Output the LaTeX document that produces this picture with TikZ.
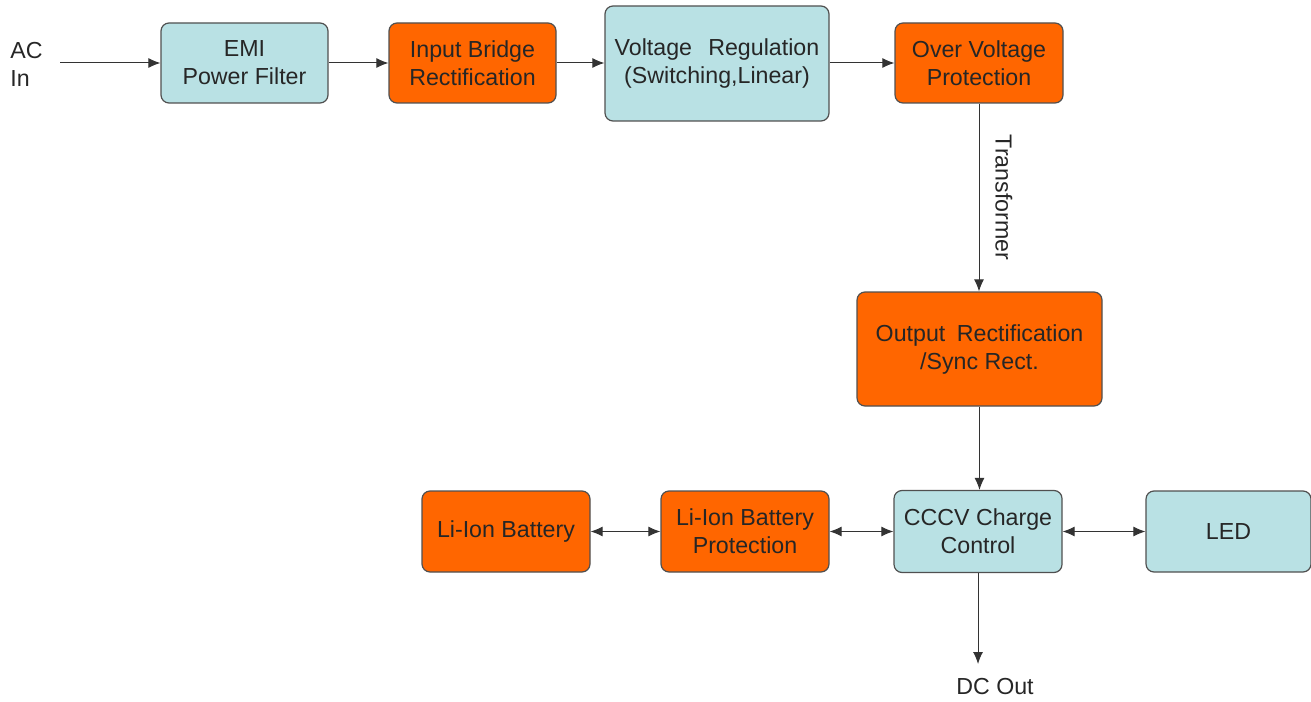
\documentclass[tikz,border=0pt]{standalone}
\usepackage{fontspec}
\setmainfont{Liberation Sans}
\usetikzlibrary{arrows.meta}
\definecolor{lblue}{HTML}{B9E1E4}
\definecolor{orng}{HTML}{FF6600}
\definecolor{edge}{HTML}{505050}
\begin{document}
\begin{tikzpicture}[x=0.5pt,y=-0.5pt,
  box/.style={draw=edge,line width=0.6pt,rounded corners=4pt,align=center,inner sep=0pt,
    font=\fontsize{11.6}{14}\selectfont,text=black!85},
  bluebox/.style={box,fill=lblue},
  orbox/.style={box,fill=orng},
  conn/.style={draw=black!80,line width=0.5pt,-{Latex[length=6pt,width=5pt]}},
  biconn/.style={draw=black!80,line width=0.5pt,{Latex[length=6pt,width=5pt]}-{Latex[length=6pt,width=5pt]}},
  lbl/.style={font=\fontsize{11.6}{14}\selectfont,text=black!85,inner sep=0pt}]
\useasboundingbox (0,0) rectangle (1311,701);
\node[bluebox,minimum width=83.5pt,minimum height=40pt] (emi) at (244.5,63) {EMI\\Power Filter};
\node[orbox,minimum width=83.5pt,minimum height=40pt] (ibr) at (472.5,63) {Input Bridge\\Rectification};
\node[bluebox,minimum width=112pt,minimum height=57.5pt] (vreg) at (717,63.5) {Voltage\hspace{0.7em}Regulation\\(Switching,Linear)};
\node[orbox,minimum width=84pt,minimum height=40pt] (ovp) at (979,63) {Over Voltage\\Protection};
\node[orbox,minimum width=122.5pt,minimum height=57pt] (orect) at (979.5,349) {Output\hspace{0.5em}Rectification\\/Sync Rect.};
\node[orbox,minimum width=84pt,minimum height=40.5pt] (bat) at (506,531.5) {Li-Ion Battery};
\node[orbox,minimum width=84pt,minimum height=40.5pt] (bprot) at (745,531.5) {Li-Ion Battery\\Protection};
\node[bluebox,minimum width=84pt,minimum height=41pt] (cccv) at (978,531.5) {CCCV Charge\\Control};
\node[bluebox,minimum width=82.5pt,minimum height=40.5pt] (led) at (1228.5,531.5) {LED};
\node[lbl,align=left,anchor=west] (acin) at (10,64) {AC\\In};
\coordinate (acstart) at (60,63);
\node[lbl] (dcout) at (995,687) {DC Out};
\coordinate (dcend) at (978,664);
\draw[conn] (acstart) -- (emi.west);
\draw[conn] (emi) -- (ibr);
\draw[conn] (ibr.east) -- (vreg.west |- ibr.east);
\draw[conn] (vreg.east |- ovp.west) -- (ovp.west);
\draw[conn] (ovp) -- node[lbl,rotate=-90,anchor=south,yshift=8pt,pos=0.5] (trf) {Transformer} (ovp |- orect.north);
\draw[conn] (orect) -- (orect |- cccv.north);
\draw[biconn] (bat) -- (bprot);
\draw[biconn] (bprot) -- (cccv);
\draw[biconn] (cccv) -- (led);
\draw[conn] (cccv) -- (dcend);
\end{tikzpicture}
\end{document}
